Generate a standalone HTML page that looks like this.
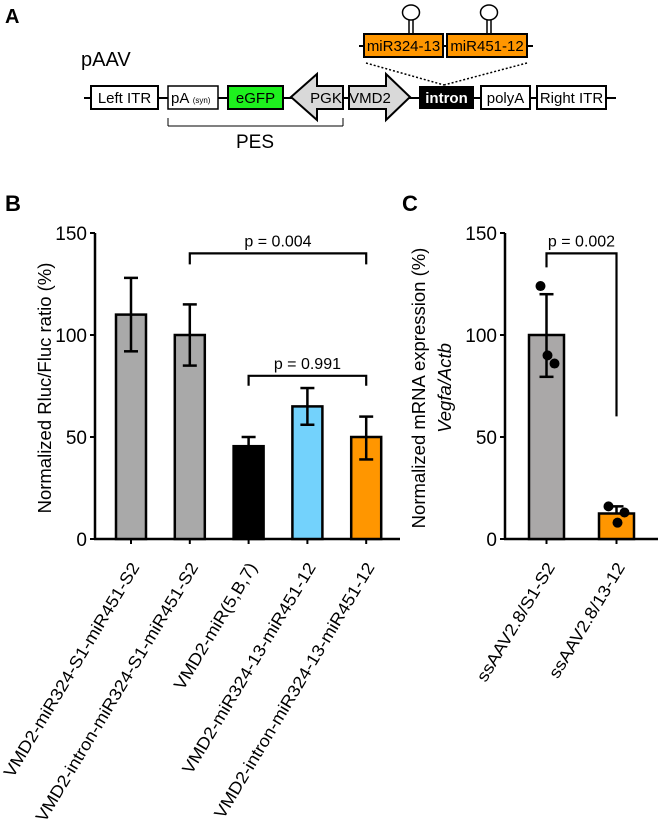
<!DOCTYPE html>
<html><head><meta charset="utf-8"><style>
body{margin:0;background:#fff}
svg{display:block;font-family:"Liberation Sans",Arial,sans-serif}
</style></head><body>
<svg id="fig" width="663" height="823" viewBox="0 0 663 823">
<g>
<text x="5" y="23" font-size="20" font-weight="bold">A</text>
<text x="81" y="66" font-size="20">pAAV</text>
<line x1="84" y1="98" x2="616" y2="98" stroke="#000" stroke-width="2"/>
<rect x="91" y="86" width="67" height="23" fill="#fff" stroke="#000" stroke-width="2"/>
<text x="124.5" y="103" font-size="15" text-anchor="middle">Left ITR</text>
<rect x="168" y="86" width="50" height="23" fill="#fff" stroke="#000" stroke-width="1.5"/>
<text x="171" y="103" font-size="15">pA <tspan font-size="8">(syn)</tspan></text>
<rect x="228" y="86" width="55" height="23" fill="#1ef01e" stroke="#000" stroke-width="2"/>
<text x="255.5" y="103" font-size="15" text-anchor="middle">eGFP</text>
<polygon points="291,97 317,74 317,86 343,86 343,109 317,109 317,120" fill="#d9d9d9" stroke="#000" stroke-width="2"/>
<text x="326" y="103" font-size="15" text-anchor="middle">PGK</text>
<polygon points="349,86 386,86 386,74 410,97 386,120 386,109 349,109" fill="#d9d9d9" stroke="#000" stroke-width="2"/>
<text x="370" y="103" font-size="15" text-anchor="middle">VMD2</text>
<rect x="419" y="86" width="55" height="23" fill="#000"/>
<text x="446.5" y="103" font-size="15" font-weight="bold" fill="#fff" text-anchor="middle">intron</text>
<rect x="481" y="86" width="49" height="23" fill="#fff" stroke="#000" stroke-width="2"/>
<text x="505.5" y="103" font-size="15" text-anchor="middle">polyA</text>
<rect x="537" y="86" width="69" height="23" fill="#fff" stroke="#000" stroke-width="2"/>
<text x="571.5" y="103" font-size="15" text-anchor="middle">Right ITR</text>
<line x1="168" y1="118" x2="168" y2="126" stroke="#000"/><line x1="343" y1="118" x2="343" y2="126" stroke="#000"/>
<line x1="168" y1="126" x2="343" y2="126" stroke="#000"/>
<text x="255" y="148" font-size="19" text-anchor="middle">PES</text>
<line x1="366" y1="63" x2="444" y2="85" stroke="#000" stroke-width="1.5" stroke-dasharray="2,2"/>
<line x1="527" y1="63" x2="444" y2="85" stroke="#000" stroke-width="1.5" stroke-dasharray="2,2"/>
<line x1="359" y1="46" x2="533" y2="46" stroke="#000" stroke-width="2"/>
<rect x="364" y="34" width="79" height="23" fill="#ff9600" stroke="#000" stroke-width="2"/>
<text x="403.5" y="51" font-size="15" text-anchor="middle">miR324-13</text>
<rect x="447" y="34" width="80" height="23" fill="#ff9600" stroke="#000" stroke-width="2"/>
<text x="487" y="51" font-size="15" text-anchor="middle">miR451-12</text>
<g fill="#fff" stroke="#000" stroke-width="1.5">
<line x1="409" y1="19" x2="409" y2="34"/><line x1="413" y1="19" x2="413" y2="34"/><ellipse cx="411" cy="12.5" rx="8.5" ry="7.5"/>
<line x1="487" y1="19" x2="487" y2="34"/><line x1="491" y1="19" x2="491" y2="34"/><ellipse cx="489" cy="12.5" rx="8.5" ry="7.5"/>
</g>
</g>
<text x="5" y="211" font-size="22" font-weight="bold">B</text>
<text x="402" y="211" font-size="22" font-weight="bold">C</text>
<g id="chartB"></g>
<g id="chartC"></g>
</svg>
<script>
const bCategories=["VMD2-miR324-S1-miR451-S2","VMD2-intron-miR324-S1-miR451-S2","VMD2-miR(5,B,7)","VMD2-miR324-13-miR451-12","VMD2-intron-miR324-13-miR451-12"];
const bValues=[110,100,45.5,65,50];
const bErrLow=[92,85,45.5,56,39];
const bErrHigh=[128,115,50,74,60];
const bColors=["#a9a9a9","#a9a9a9","#000000","#73d2fc","#ff9600"];
const yTicks=[0,50,100,150];
const cCategories=["ssAAV2.8/S1-S2","ssAAV2.8/13-12"];
const cValues=[100,12.5];
const cErrLow=[79.5,12.5];
const cErrHigh=[120,16];
const cColors=["#aaa8a8","#ff9600"];
const cPoints=[[124,90,86],[16,13,8]];
const NS="http://www.w3.org/2000/svg";
function mk(p,t,a){const e=document.createElementNS(NS,t);for(const k in a)e.setAttribute(k,a[k]);p.appendChild(e);return e;}
const y0=539,yTop=233;
function yS(v){return y0-(v/150)*(y0-yTop);}
function drawAxis(g,ax,xEnd,title,title2,tx){
  const a=mk(g,'line',{x1:ax,y1:yTop,x2:ax,y2:y0,stroke:'#000','stroke-width':2.5});
  
  
  const b=mk(g,'line',{x1:ax-1,y1:y0,x2:xEnd,y2:y0,stroke:'#000','stroke-width':2.5});
  
  
  yTicks.forEach(t=>{
    mk(g,'line',{x1:ax-5,y1:yS(t),x2:ax,y2:yS(t),stroke:'#000','stroke-width':2});
    const l=mk(g,'text',{x:ax-8,y:yS(t)+7,'font-size':19,'text-anchor':'end'});l.textContent=t;
    
    
  });
  const tt=mk(g,'text',{x:0,y:0,'font-size':18.5,'text-anchor':'middle',transform:`translate(${tx},388) rotate(-90)`});
  
  
  tt.textContent=title;
  if(title2){const t2=mk(g,'text',{x:0,y:0,'font-size':18.5,'font-style':'italic','text-anchor':'middle',transform:`translate(${tx+26},388) rotate(-90)`});t2.textContent=title2;
    
    }
}
function bars(g,cats,vals,lo,hi,cols,cx,w){
  cats.forEach((c,i)=>{
    const x=cx[i];
    const r=mk(g,'rect',{x:x-w/2,y:yS(vals[i]),width:w,height:y0-yS(vals[i]),fill:cols[i],stroke:'#000','stroke-width':2.5});
    
    
    mk(g,'line',{x1:x,y1:y0,x2:x,y2:y0+5,stroke:'#000','stroke-width':2});
    mk(g,'line',{x1:x,y1:yS(hi[i]),x2:x,y2:yS(lo[i]),stroke:'#000','stroke-width':2.5});
    mk(g,'line',{x1:x-7,y1:yS(hi[i]),x2:x+7,y2:yS(hi[i]),stroke:'#000','stroke-width':2.5});
    if(lo[i]<vals[i])mk(g,'line',{x1:x-7,y1:yS(lo[i]),x2:x+7,y2:yS(lo[i]),stroke:'#000','stroke-width':2.5});
    const t=mk(g,'text',{x:0,y:0,'font-size':17,'text-anchor':'end',transform:`translate(${x+9},567) rotate(-59) scale(1.08,1)`});
    t.textContent=c;
    
    
  });
}
function bracket(g,x1,x2,yv,d1,d2,label){
  const y=yS(yv);
  const p=mk(g,'path',{d:`M${x1},${y+d1}V${y}H${x2}V${y+d2}`,fill:'none',stroke:'#000','stroke-width':2.2});
  
  
  const t=mk(g,'text',{x:(x1+x2)/2,y:y-7,'font-size':16,'text-anchor':'middle'});t.textContent=label;
  
  
}
const gB=document.getElementById('chartB');
drawAxis(gB,95,400,'Normalized Rluc/Fluc ratio (%)',null,51);
const bx=bCategories.map((_,i)=>131+i*58.8);
bars(gB,bCategories,bValues,bErrLow,bErrHigh,bColors,bx,30);
bracket(gB,bx[1],bx[4],140,11,11,'p = 0.004');
bracket(gB,bx[2],bx[4],80,10,10,'p = 0.991');
const gC=document.getElementById('chartC');
drawAxis(gC,505,658,'Normalized mRNA expression (%)','Vegfa/Actb',425);
const cx=[546.5,616.5];
bars(gC,cCategories,cValues,cErrLow,cErrHigh,cColors,cx,35);
const offs=[[-6,1,8],[-8,8,1]];
cPoints.forEach((ps,i)=>ps.forEach((v,j)=>{
  const c=mk(gC,'circle',{cx:cx[i]+offs[i][j],cy:yS(v),r:5,fill:'#000'});
  
  
}));
bracket(gC,cx[0],cx[1],140,14,163,'p = 0.002');
</script>
</body></html>
